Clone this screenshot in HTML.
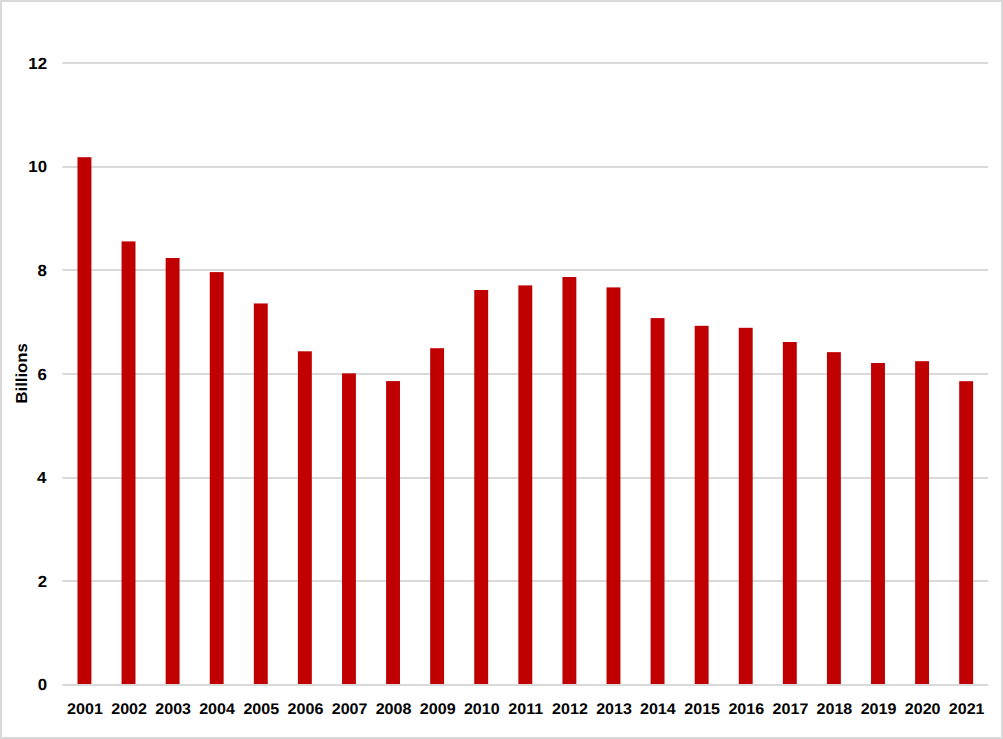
<!DOCTYPE html>
<html><head><meta charset="utf-8"><style>
html,body{margin:0;padding:0;background:#fff;}
.wrap{position:relative;width:1003px;height:739px;overflow:hidden;background:#fff;}
.border{position:absolute;left:0;top:0;width:999px;height:735px;border:2px solid #d9d9d9;}
svg{position:absolute;left:0;top:0;}
.t{font-family:"Liberation Sans",sans-serif;font-weight:bold;font-size:16.0px;fill:#000;text-rendering:geometricPrecision;}
</style></head><body><div class="wrap"><div class="border"></div>
<svg width="1003" height="739" viewBox="0 0 1003 739">
<rect x="62.40" y="684" width="925.80" height="2" fill="#d9d9d9"/>
<rect x="62.40" y="580" width="925.80" height="2" fill="#d9d9d9"/>
<rect x="62.40" y="477" width="925.80" height="2" fill="#d9d9d9"/>
<rect x="62.40" y="373" width="925.80" height="2" fill="#d9d9d9"/>
<rect x="62.40" y="269" width="925.80" height="2" fill="#d9d9d9"/>
<rect x="62.40" y="166" width="925.80" height="2" fill="#d9d9d9"/>
<rect x="62.40" y="62" width="925.80" height="2" fill="#d9d9d9"/>
<rect x="77.49" y="157.20" width="13.90" height="526.80" fill="#c00000"/>
<rect x="121.58" y="241.40" width="13.90" height="442.60" fill="#c00000"/>
<rect x="165.66" y="258.00" width="13.90" height="426.00" fill="#c00000"/>
<rect x="209.75" y="272.10" width="13.90" height="411.90" fill="#c00000"/>
<rect x="253.84" y="303.45" width="13.90" height="380.55" fill="#c00000"/>
<rect x="297.92" y="351.30" width="13.90" height="332.70" fill="#c00000"/>
<rect x="342.01" y="373.35" width="13.90" height="310.65" fill="#c00000"/>
<rect x="386.09" y="381.10" width="13.90" height="302.90" fill="#c00000"/>
<rect x="430.18" y="348.20" width="13.90" height="335.80" fill="#c00000"/>
<rect x="474.26" y="290.00" width="13.90" height="394.00" fill="#c00000"/>
<rect x="518.35" y="285.40" width="13.90" height="398.60" fill="#c00000"/>
<rect x="562.44" y="277.00" width="13.90" height="407.00" fill="#c00000"/>
<rect x="606.52" y="287.40" width="13.90" height="396.60" fill="#c00000"/>
<rect x="650.61" y="318.10" width="13.90" height="365.90" fill="#c00000"/>
<rect x="694.69" y="325.80" width="13.90" height="358.20" fill="#c00000"/>
<rect x="738.78" y="327.80" width="13.90" height="356.20" fill="#c00000"/>
<rect x="782.86" y="342.00" width="13.90" height="342.00" fill="#c00000"/>
<rect x="826.95" y="352.15" width="13.90" height="331.85" fill="#c00000"/>
<rect x="871.04" y="363.00" width="13.90" height="321.00" fill="#c00000"/>
<rect x="915.12" y="361.20" width="13.90" height="322.80" fill="#c00000"/>
<rect x="959.21" y="381.20" width="13.90" height="302.80" fill="#c00000"/>
<text class="t" text-anchor="end" transform="translate(47.039,690.299) scale(1.05,1.011)">0</text>
<text class="t" text-anchor="end" transform="translate(47.022,586.949) scale(1.05,1.011)">2</text>
<text class="t" text-anchor="end" transform="translate(46.44,482.849) scale(1.05,1.011)">4</text>
<text class="t" text-anchor="end" transform="translate(46.957,379.849) scale(1.05,1.011)">6</text>
<text class="t" text-anchor="end" transform="translate(46.867,275.649) scale(1.05,1.011)">8</text>
<text class="t" text-anchor="end" transform="translate(47.039,171.649) scale(1.05,1.011)">10</text>
<text class="t" text-anchor="end" transform="translate(47.022,68.648) scale(1.05,1.011)">12</text>
<text class="t" text-anchor="middle" transform="translate(84.938,713.8) scale(1.005,0.96)">2001</text>
<text class="t" text-anchor="middle" transform="translate(129.122,713.8) scale(1.005,0.96)">2002</text>
<text class="t" text-anchor="middle" transform="translate(173.176,713.8) scale(1.005,0.96)">2003</text>
<text class="t" text-anchor="middle" transform="translate(217.015,713.8) scale(1.005,0.96)">2004</text>
<text class="t" text-anchor="middle" transform="translate(261.281,713.8) scale(1.005,0.96)">2005</text>
<text class="t" text-anchor="middle" transform="translate(305.433,713.8) scale(1.005,0.96)">2006</text>
<text class="t" text-anchor="middle" transform="translate(349.582,713.8) scale(1.005,0.96)">2007</text>
<text class="t" text-anchor="middle" transform="translate(393.561,713.8) scale(1.005,0.96)">2008</text>
<text class="t" text-anchor="middle" transform="translate(437.698,713.8) scale(1.005,0.96)">2009</text>
<text class="t" text-anchor="middle" transform="translate(481.815,713.8) scale(1.005,0.96)">2010</text>
<text class="t" text-anchor="middle" transform="translate(525.795,713.8) scale(1.005,0.96)">2011</text>
<text class="t" text-anchor="middle" transform="translate(569.979,713.8) scale(1.005,0.96)">2012</text>
<text class="t" text-anchor="middle" transform="translate(614.033,713.8) scale(1.005,0.96)">2013</text>
<text class="t" text-anchor="middle" transform="translate(657.872,713.8) scale(1.005,0.96)">2014</text>
<text class="t" text-anchor="middle" transform="translate(702.138,713.8) scale(1.005,0.96)">2015</text>
<text class="t" text-anchor="middle" transform="translate(746.29,713.8) scale(1.005,0.96)">2016</text>
<text class="t" text-anchor="middle" transform="translate(790.439,713.8) scale(1.005,0.96)">2017</text>
<text class="t" text-anchor="middle" transform="translate(834.419,713.8) scale(1.005,0.96)">2018</text>
<text class="t" text-anchor="middle" transform="translate(878.555,713.8) scale(1.005,0.96)">2019</text>
<text class="t" text-anchor="middle" transform="translate(922.672,713.8) scale(1.005,0.96)">2020</text>
<text class="t" text-anchor="middle" transform="translate(966.652,713.8) scale(1.005,0.96)">2021</text>
<text class="t" text-anchor="middle" transform="translate(27.225,373.416) rotate(-90) scale(1.043,0.998)">Billions</text>
</svg></div></body></html>
